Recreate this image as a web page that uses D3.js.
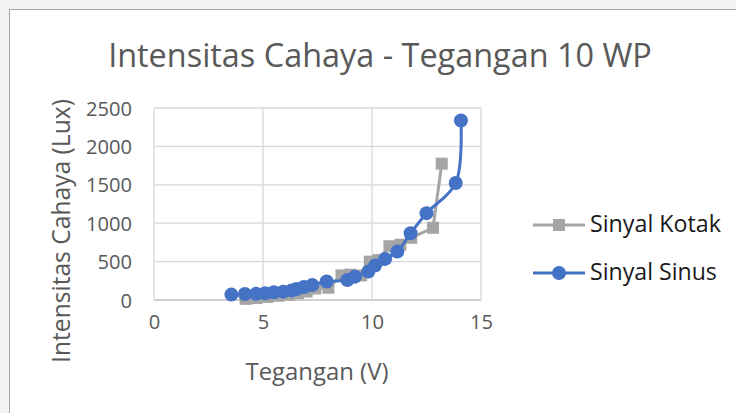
<!DOCTYPE html>
<html><head><meta charset="utf-8">
<script src="https://cdn.jsdelivr.net/npm/d3@7"></script>
<style>html,body{margin:0;padding:0;background:#f3f3f3;overflow:hidden}</style>
</head><body>
<svg id="c" width="736" height="413"></svg>
<script>
const title = "Intensitas Cahaya - Tegangan 10 WP";
const xTitle = "Tegangan (V)";
const yTitle = "Intensitas Cahaya (Lux)";
const xTicks = [0, 5, 10, 15];
const yTicks = [0, 500, 1000, 1500, 2000, 2500];
const seriesNames = ["Sinyal Kotak", "Sinyal Sinus"];
const kotakV = [4.2, 4.7, 5.2, 5.7, 6.2, 6.6, 7.0, 7.4, 8.0, 8.6, 9.0, 9.5, 9.9, 10.3, 10.8, 11.3, 11.8, 12.8, 13.2];
const kotakI = [15, 25, 40, 55, 70, 90, 110, 150, 160, 320, 330, 320, 500, 520, 700, 720, 810, 940, 1775];
const sinusV = [3.55, 4.17, 4.68, 5.1, 5.5, 5.93, 6.31, 6.54, 6.88, 7.26, 7.92, 8.87, 9.22, 9.83, 10.14, 10.6, 11.16, 11.77, 12.5, 13.84, 14.08];
const sinusI = [70, 78, 80, 87, 100, 109, 125, 143, 170, 196, 240, 261, 304, 370, 448, 535, 630, 870, 1131, 1523, 2337];

const svg = d3.select("#c");
const font = "'Open Sans', sans-serif";
svg.append("rect").attr("x", 9.5).attr("y", 9.5).attr("width", 760).attr("height", 460)
  .attr("fill", "#fff").attr("stroke", "#a6a6a6").attr("stroke-width", 1);

const L = 154, R = 481, T = 108, B = 300;
const x = d3.scaleLinear().domain([0, 15]).range([L, R]);
const y = d3.scaleLinear().domain([0, 2500]).range([B, T]);

// gridlines
svg.append("g").selectAll("line.h").data(yTicks).join("line")
  .attr("x1", L).attr("x2", R).attr("y1", d => y(d)).attr("y2", d => y(d))
  .attr("stroke", d => d === 0 ? "#bfbfbf" : "#d9d9d9").attr("stroke-width", 1.3);
svg.append("g").selectAll("line.v").data(xTicks).join("line")
  .attr("x1", d => x(d)).attr("x2", d => x(d)).attr("y1", T).attr("y2", B)
  .attr("stroke", "#d9d9d9").attr("stroke-width", 1.3);

function fitText(sel, target) {
  const w = sel.node().getComputedTextLength();
  const fs = parseFloat(sel.attr("font-size"));
  const n = fs * target / w;
  sel.attr("font-size", n);
  return n;
}

// tick font size derived from "2500" width
const probe = svg.append("text").text("2500").attr("font-family", font).attr("font-size", 16);
const tickFs = fitText(probe, 46);
probe.remove();

// axes (labels only)
const ya = svg.append("g").attr("transform", `translate(${L - 22},0)`)
  .call(d3.axisLeft(y).tickValues(yTicks).tickFormat(d3.format("d")).tickSize(0).tickPadding(0));
const xa = svg.append("g").attr("transform", `translate(0,${B + 22})`)
  .call(d3.axisBottom(x).tickValues(xTicks).tickFormat(d3.format("d")).tickSize(0).tickPadding(0));
[ya, xa].forEach(a => {
  a.select(".domain").remove();
  a.selectAll("text").attr("font-family", font).attr("font-size", tickFs).attr("fill", "#595959");
});
ya.selectAll("text").attr("dy", "0.35em");
xa.selectAll("text").attr("dy", "0.35em");

// series
const kotak = kotakV.map((v, i) => [v, kotakI[i]]);
const sinus = sinusV.map((v, i) => [v, sinusI[i]]);
const gray = "#a5a5a5", blue = "#4472c4";

svg.append("path").datum(kotak)
  .attr("d", d3.line().x(d => x(d[0])).y(d => y(d[1])))
  .attr("fill", "none").attr("stroke", gray).attr("stroke-width", 3);
svg.append("g").selectAll("rect").data(kotak).join("rect")
  .attr("x", d => x(d[0]) - 6).attr("y", d => y(d[1]) - 6)
  .attr("width", 12).attr("height", 12).attr("fill", gray);

svg.append("path").datum(sinus)
  .attr("d", d3.line().curve(d3.curveCatmullRom.alpha(0.5)).x(d => x(d[0])).y(d => y(d[1])))
  .attr("fill", "none").attr("stroke", blue).attr("stroke-width", 3);
svg.append("g").selectAll("circle").data(sinus).join("circle")
  .attr("cx", d => x(d[0])).attr("cy", d => y(d[1])).attr("r", 7).attr("fill", blue);

// titles
const t = svg.append("text").text(title).attr("x", 380).attr("y", 67)
  .attr("text-anchor", "middle").attr("font-family", font).attr("font-size", 26).attr("fill", "#595959");
fitText(t, 544);
const xt = svg.append("text").text(xTitle).attr("x", 317).attr("y", 380)
  .attr("text-anchor", "middle").attr("font-family", font).attr("font-size", 19).attr("fill", "#595959");
fitText(xt, 143);
const yt = svg.append("text").text(yTitle).attr("transform", "translate(70,231) rotate(-90)")
  .attr("text-anchor", "middle").attr("font-family", font).attr("font-size", 19).attr("fill", "#595959");
fitText(yt, 264);

// legend
const leg = svg.append("g");
const colors = [gray, blue];
seriesNames.forEach((n, i) => {
  const ly = 225 + i * 48;
  leg.append("line").attr("x1", 533).attr("x2", 585).attr("y1", ly).attr("y2", ly)
    .attr("stroke", colors[i]).attr("stroke-width", 3);
  if (i === 0) leg.append("rect").attr("x", 553).attr("y", ly - 6).attr("width", 12).attr("height", 12).attr("fill", gray);
  else leg.append("circle").attr("cx", 559).attr("cy", ly).attr("r", 7).attr("fill", blue);
  const lt = leg.append("text").text(n).attr("x", 590).attr("y", ly + 7)
    .attr("font-family", font).attr("font-size", 19).attr("fill", "#1a1a1a");
  fitText(lt, i === 0 ? 131 : 127);
});
</script>
</body></html>
